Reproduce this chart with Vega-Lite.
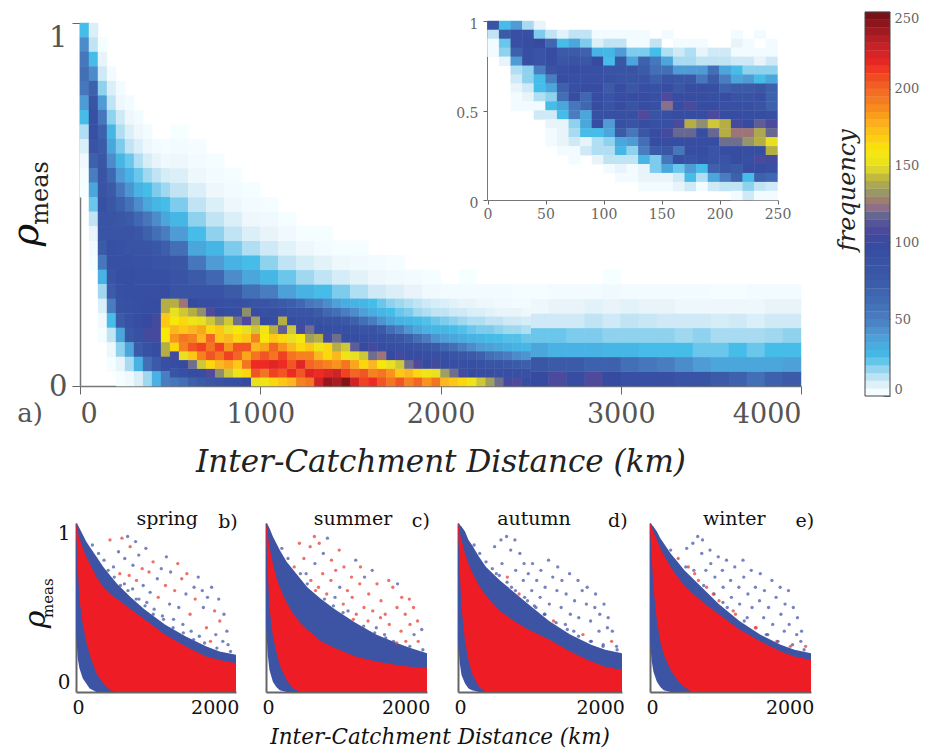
{"$schema":"https://vega.github.io/schema/vega-lite/v6.json","width":925,"height":751,"padding":0,"autosize":{"type":"none"},"background":"white","config":{"view":{"stroke":null},"font":"DejaVu Serif","axis":{"grid":false,"labelFont":"DejaVu Serif","titleFont":"DejaVu Serif"},"text":{"font":"DejaVu Serif"}},
"resolve":{"scale":{"x":"independent","y":"independent","color":"independent"},"axis":{"x":"independent","y":"independent"}},
"datasets":{
"fine":[{"d":25,"r":0.98,"f":25},{"d":25,"r":0.94,"f":45},{"d":25,"r":0.9,"f":55},{"d":25,"r":0.86,"f":60},{"d":25,"r":0.82,"f":55},{"d":25,"r":0.78,"f":40},{"d":25,"r":0.74,"f":25},{"d":25,"r":0.7,"f":14},{"d":25,"r":0.66,"f":8},{"d":25,"r":0.62,"f":4},{"d":25,"r":0.58,"f":2},{"d":25,"r":0.54,"f":1},
{"d":75,"r":0.98,"f":8},{"d":75,"r":0.94,"f":12},{"d":75,"r":0.9,"f":25},{"d":75,"r":0.86,"f":45},{"d":75,"r":0.82,"f":70},{"d":75,"r":0.78,"f":85},{"d":75,"r":0.74,"f":90},{"d":75,"r":0.7,"f":90},{"d":75,"r":0.66,"f":85},{"d":75,"r":0.62,"f":70},{"d":75,"r":0.58,"f":50},{"d":75,"r":0.54,"f":35},{"d":75,"r":0.5,"f":22},{"d":75,"r":0.46,"f":12},{"d":75,"r":0.42,"f":6},{"d":75,"r":0.38,"f":3},{"d":75,"r":0.34,"f":2},
{"d":125,"r":0.94,"f":2},{"d":125,"r":0.9,"f":6},{"d":125,"r":0.86,"f":10},{"d":125,"r":0.82,"f":18},{"d":125,"r":0.78,"f":40},{"d":125,"r":0.74,"f":55},{"d":125,"r":0.7,"f":70},{"d":125,"r":0.66,"f":75},{"d":125,"r":0.62,"f":80},{"d":125,"r":0.58,"f":85},{"d":125,"r":0.54,"f":85},{"d":125,"r":0.5,"f":90},{"d":125,"r":0.46,"f":85},{"d":125,"r":0.42,"f":85},{"d":125,"r":0.38,"f":75},{"d":125,"r":0.34,"f":55},{"d":125,"r":0.3,"f":30},{"d":125,"r":0.26,"f":16},{"d":125,"r":0.22,"f":8},{"d":125,"r":0.18,"f":4},{"d":125,"r":0.14,"f":2},
{"d":175,"r":0.86,"f":3},{"d":175,"r":0.82,"f":8},{"d":175,"r":0.78,"f":12},{"d":175,"r":0.74,"f":18},{"d":175,"r":0.7,"f":28},{"d":175,"r":0.66,"f":35},{"d":175,"r":0.62,"f":45},{"d":175,"r":0.58,"f":65},{"d":175,"r":0.54,"f":75},{"d":175,"r":0.5,"f":80},{"d":175,"r":0.46,"f":85},{"d":175,"r":0.42,"f":85},{"d":175,"r":0.38,"f":90},{"d":175,"r":0.34,"f":90},{"d":175,"r":0.3,"f":85},{"d":175,"r":0.26,"f":75},{"d":175,"r":0.22,"f":50},{"d":175,"r":0.18,"f":25},{"d":175,"r":0.14,"f":12},{"d":175,"r":0.1,"f":5},{"d":175,"r":0.06,"f":2},
{"d":225,"r":0.82,"f":3},{"d":225,"r":0.78,"f":5},{"d":225,"r":0.74,"f":10},{"d":225,"r":0.7,"f":14},{"d":225,"r":0.66,"f":20},{"d":225,"r":0.62,"f":28},{"d":225,"r":0.58,"f":40},{"d":225,"r":0.54,"f":55},{"d":225,"r":0.5,"f":70},{"d":225,"r":0.46,"f":80},{"d":225,"r":0.42,"f":85},{"d":225,"r":0.38,"f":88},{"d":225,"r":0.34,"f":90},{"d":225,"r":0.3,"f":92},{"d":225,"r":0.26,"f":90},{"d":225,"r":0.22,"f":88},{"d":225,"r":0.18,"f":75},{"d":225,"r":0.14,"f":35},{"d":225,"r":0.1,"f":18},{"d":225,"r":0.06,"f":6},{"d":225,"r":0.02,"f":2},
{"d":275,"r":0.78,"f":3},{"d":275,"r":0.74,"f":5},{"d":275,"r":0.7,"f":8},{"d":275,"r":0.66,"f":12},{"d":275,"r":0.62,"f":22},{"d":275,"r":0.58,"f":30},{"d":275,"r":0.54,"f":42},{"d":275,"r":0.5,"f":58},{"d":275,"r":0.46,"f":75},{"d":275,"r":0.42,"f":85},{"d":275,"r":0.38,"f":85},{"d":275,"r":0.34,"f":90},{"d":275,"r":0.3,"f":92},{"d":275,"r":0.26,"f":92},{"d":275,"r":0.22,"f":90},{"d":275,"r":0.18,"f":88},{"d":275,"r":0.14,"f":80},{"d":275,"r":0.1,"f":35},{"d":275,"r":0.06,"f":15},{"d":275,"r":0.02,"f":4},
{"d":325,"r":0.74,"f":3},{"d":325,"r":0.7,"f":5},{"d":325,"r":0.66,"f":8},{"d":325,"r":0.62,"f":14},{"d":325,"r":0.58,"f":22},{"d":325,"r":0.54,"f":30},{"d":325,"r":0.5,"f":45},{"d":325,"r":0.46,"f":65},{"d":325,"r":0.42,"f":80},{"d":325,"r":0.38,"f":85},{"d":325,"r":0.34,"f":88},{"d":325,"r":0.3,"f":90},{"d":325,"r":0.26,"f":92},{"d":325,"r":0.22,"f":92},{"d":325,"r":0.18,"f":95},{"d":325,"r":0.14,"f":88},{"d":325,"r":0.1,"f":75},{"d":325,"r":0.06,"f":30},{"d":325,"r":0.02,"f":8},
{"d":375,"r":0.7,"f":3},{"d":375,"r":0.66,"f":5},{"d":375,"r":0.62,"f":9},{"d":375,"r":0.58,"f":16},{"d":375,"r":0.54,"f":25},{"d":375,"r":0.5,"f":35},{"d":375,"r":0.46,"f":55},{"d":375,"r":0.42,"f":70},{"d":375,"r":0.38,"f":85},{"d":375,"r":0.34,"f":88},{"d":375,"r":0.3,"f":90},{"d":375,"r":0.26,"f":92},{"d":375,"r":0.22,"f":95},{"d":375,"r":0.18,"f":100},{"d":375,"r":0.14,"f":105},{"d":375,"r":0.1,"f":88},{"d":375,"r":0.06,"f":60},{"d":375,"r":0.02,"f":16},
{"d":425,"r":0.66,"f":3},{"d":425,"r":0.62,"f":6},{"d":425,"r":0.58,"f":12},{"d":425,"r":0.54,"f":20},{"d":425,"r":0.5,"f":28},{"d":425,"r":0.46,"f":45},{"d":425,"r":0.42,"f":60},{"d":425,"r":0.38,"f":80},{"d":425,"r":0.34,"f":85},{"d":425,"r":0.3,"f":90},{"d":425,"r":0.26,"f":92},{"d":425,"r":0.22,"f":95},{"d":425,"r":0.18,"f":105},{"d":425,"r":0.14,"f":105},{"d":425,"r":0.1,"f":95},{"d":425,"r":0.06,"f":75},{"d":425,"r":0.02,"f":30},
{"d":475,"r":0.66,"f":2},{"d":475,"r":0.62,"f":4},{"d":475,"r":0.58,"f":9},{"d":475,"r":0.54,"f":16},{"d":475,"r":0.5,"f":25},{"d":475,"r":0.46,"f":35},{"d":475,"r":0.42,"f":50},{"d":475,"r":0.38,"f":72},{"d":475,"r":0.34,"f":85},{"d":475,"r":0.3,"f":90},{"d":475,"r":0.26,"f":95},{"d":475,"r":0.22,"f":140},{"d":475,"r":0.18,"f":170},{"d":475,"r":0.14,"f":160},{"d":475,"r":0.1,"f":140},{"d":475,"r":0.06,"f":90},{"d":475,"r":0.02,"f":50}],
"hot":[{"d":525,"r":0.012,"f":55},{"d":525,"r":0.036,"f":85},{"d":525,"r":0.06,"f":95},{"d":525,"r":0.084,"f":105},{"d":525,"r":0.108,"f":165},{"d":525,"r":0.132,"f":185},{"d":525,"r":0.156,"f":175},{"d":525,"r":0.18,"f":160},{"d":525,"r":0.204,"f":150},{"d":525,"r":0.228,"f":140},
{"d":575,"r":0.012,"f":60},{"d":575,"r":0.036,"f":90},{"d":575,"r":0.06,"f":100},{"d":575,"r":0.084,"f":150},{"d":575,"r":0.108,"f":190},{"d":575,"r":0.132,"f":195},{"d":575,"r":0.156,"f":170},{"d":575,"r":0.18,"f":165},{"d":575,"r":0.204,"f":145},{"d":575,"r":0.228,"f":125},
{"d":625,"r":0.012,"f":70},{"d":625,"r":0.036,"f":95},{"d":625,"r":0.06,"f":120},{"d":625,"r":0.084,"f":170},{"d":625,"r":0.108,"f":205},{"d":625,"r":0.132,"f":190},{"d":625,"r":0.156,"f":175},{"d":625,"r":0.18,"f":155},{"d":625,"r":0.204,"f":140},{"d":625,"r":0.228,"f":100},
{"d":675,"r":0.012,"f":75},{"d":675,"r":0.036,"f":95},{"d":675,"r":0.06,"f":145},{"d":675,"r":0.084,"f":190},{"d":675,"r":0.108,"f":210},{"d":675,"r":0.132,"f":175},{"d":675,"r":0.156,"f":180},{"d":675,"r":0.18,"f":150},{"d":675,"r":0.204,"f":130},{"d":675,"r":0.228,"f":95},
{"d":725,"r":0.012,"f":80},{"d":725,"r":0.036,"f":110},{"d":725,"r":0.06,"f":165},{"d":725,"r":0.084,"f":205},{"d":725,"r":0.108,"f":195},{"d":725,"r":0.132,"f":200},{"d":725,"r":0.156,"f":165},{"d":725,"r":0.18,"f":145},{"d":725,"r":0.204,"f":110},{"d":725,"r":0.228,"f":95},
{"d":775,"r":0.012,"f":85},{"d":775,"r":0.036,"f":130},{"d":775,"r":0.06,"f":175},{"d":775,"r":0.084,"f":195},{"d":775,"r":0.108,"f":210},{"d":775,"r":0.132,"f":170},{"d":775,"r":0.156,"f":170},{"d":775,"r":0.18,"f":135},{"d":775,"r":0.204,"f":100},{"d":775,"r":0.228,"f":90},
{"d":825,"r":0.012,"f":90},{"d":825,"r":0.036,"f":145},{"d":825,"r":0.06,"f":180},{"d":825,"r":0.084,"f":210},{"d":825,"r":0.108,"f":185},{"d":825,"r":0.132,"f":175},{"d":825,"r":0.156,"f":150},{"d":825,"r":0.18,"f":145},{"d":825,"r":0.204,"f":95},{"d":825,"r":0.228,"f":88},
{"d":875,"r":0.012,"f":92},{"d":875,"r":0.036,"f":155},{"d":875,"r":0.06,"f":170},{"d":875,"r":0.084,"f":200},{"d":875,"r":0.108,"f":205},{"d":875,"r":0.132,"f":165},{"d":875,"r":0.156,"f":160},{"d":875,"r":0.18,"f":120},{"d":875,"r":0.204,"f":95},{"d":875,"r":0.228,"f":90},
{"d":925,"r":0.012,"f":100},{"d":925,"r":0.036,"f":165},{"d":925,"r":0.06,"f":195},{"d":925,"r":0.084,"f":180},{"d":925,"r":0.108,"f":205},{"d":925,"r":0.132,"f":170},{"d":925,"r":0.156,"f":150},{"d":925,"r":0.18,"f":110},{"d":925,"r":0.204,"f":130},{"d":925,"r":0.228,"f":88},
{"d":975,"r":0.012,"f":150},{"d":975,"r":0.036,"f":205},{"d":975,"r":0.06,"f":215},{"d":975,"r":0.084,"f":195},{"d":975,"r":0.108,"f":175},{"d":975,"r":0.132,"f":190},{"d":975,"r":0.156,"f":145},{"d":975,"r":0.18,"f":135},{"d":975,"r":0.204,"f":95},{"d":975,"r":0.228,"f":85},
{"d":1025,"r":0.012,"f":155},{"d":1025,"r":0.036,"f":195},{"d":1025,"r":0.06,"f":215},{"d":1025,"r":0.084,"f":205},{"d":1025,"r":0.108,"f":180},{"d":1025,"r":0.132,"f":160},{"d":1025,"r":0.156,"f":155},{"d":1025,"r":0.18,"f":100},{"d":1025,"r":0.204,"f":90},{"d":1025,"r":0.228,"f":85},
{"d":1075,"r":0.012,"f":165},{"d":1075,"r":0.036,"f":210},{"d":1075,"r":0.06,"f":220},{"d":1075,"r":0.084,"f":195},{"d":1075,"r":0.108,"f":200},{"d":1075,"r":0.132,"f":170},{"d":1075,"r":0.156,"f":140},{"d":1075,"r":0.18,"f":95},{"d":1075,"r":0.204,"f":92},{"d":1075,"r":0.228,"f":80},
{"d":1125,"r":0.012,"f":170},{"d":1125,"r":0.036,"f":205},{"d":1125,"r":0.06,"f":215},{"d":1125,"r":0.084,"f":210},{"d":1125,"r":0.108,"f":185},{"d":1125,"r":0.132,"f":165},{"d":1125,"r":0.156,"f":115},{"d":1125,"r":0.18,"f":140},{"d":1125,"r":0.204,"f":90},{"d":1125,"r":0.228,"f":75},
{"d":1175,"r":0.012,"f":175},{"d":1175,"r":0.036,"f":215},{"d":1175,"r":0.06,"f":205},{"d":1175,"r":0.084,"f":195},{"d":1175,"r":0.108,"f":175},{"d":1175,"r":0.132,"f":150},{"d":1175,"r":0.156,"f":145},{"d":1175,"r":0.18,"f":95},{"d":1175,"r":0.204,"f":85},{"d":1175,"r":0.228,"f":72},
{"d":1225,"r":0.012,"f":190},{"d":1225,"r":0.036,"f":205},{"d":1225,"r":0.06,"f":220},{"d":1225,"r":0.084,"f":190},{"d":1225,"r":0.108,"f":165},{"d":1225,"r":0.132,"f":160},{"d":1225,"r":0.156,"f":105},{"d":1225,"r":0.18,"f":90},{"d":1225,"r":0.204,"f":85},{"d":1225,"r":0.228,"f":65},
{"d":1275,"r":0.012,"f":195},{"d":1275,"r":0.036,"f":220},{"d":1275,"r":0.06,"f":200},{"d":1275,"r":0.084,"f":190},{"d":1275,"r":0.108,"f":170},{"d":1275,"r":0.132,"f":135},{"d":1275,"r":0.156,"f":120},{"d":1275,"r":0.18,"f":90},{"d":1275,"r":0.204,"f":82},{"d":1275,"r":0.228,"f":55},
{"d":1325,"r":0.012,"f":225},{"d":1325,"r":0.036,"f":215},{"d":1325,"r":0.06,"f":195},{"d":1325,"r":0.084,"f":175},{"d":1325,"r":0.108,"f":155},{"d":1325,"r":0.132,"f":140},{"d":1325,"r":0.156,"f":95},{"d":1325,"r":0.18,"f":88},{"d":1325,"r":0.204,"f":75},{"d":1325,"r":0.228,"f":50},
{"d":1375,"r":0.012,"f":240},{"d":1375,"r":0.036,"f":220},{"d":1375,"r":0.06,"f":190},{"d":1375,"r":0.084,"f":165},{"d":1375,"r":0.108,"f":165},{"d":1375,"r":0.132,"f":105},{"d":1375,"r":0.156,"f":92},{"d":1375,"r":0.18,"f":85},{"d":1375,"r":0.204,"f":65},{"d":1375,"r":0.228,"f":45},
{"d":1425,"r":0.012,"f":235},{"d":1425,"r":0.036,"f":225},{"d":1425,"r":0.06,"f":185},{"d":1425,"r":0.084,"f":175},{"d":1425,"r":0.108,"f":140},{"d":1425,"r":0.132,"f":120},{"d":1425,"r":0.156,"f":90},{"d":1425,"r":0.18,"f":85},{"d":1425,"r":0.204,"f":60},{"d":1425,"r":0.228,"f":38},
{"d":1475,"r":0.012,"f":245},{"d":1475,"r":0.036,"f":210},{"d":1475,"r":0.06,"f":195},{"d":1475,"r":0.084,"f":155},{"d":1475,"r":0.108,"f":145},{"d":1475,"r":0.132,"f":95},{"d":1475,"r":0.156,"f":90},{"d":1475,"r":0.18,"f":78},{"d":1475,"r":0.204,"f":50},{"d":1475,"r":0.228,"f":32},
{"d":1525,"r":0.012,"f":225},{"d":1525,"r":0.036,"f":200},{"d":1525,"r":0.06,"f":180},{"d":1525,"r":0.084,"f":150},{"d":1525,"r":0.108,"f":115},{"d":1525,"r":0.132,"f":95},{"d":1525,"r":0.156,"f":88},{"d":1525,"r":0.18,"f":70},{"d":1525,"r":0.204,"f":45},{"d":1525,"r":0.228,"f":30},
{"d":1575,"r":0.012,"f":210},{"d":1575,"r":0.036,"f":205},{"d":1575,"r":0.06,"f":165},{"d":1575,"r":0.084,"f":145},{"d":1575,"r":0.108,"f":100},{"d":1575,"r":0.132,"f":92},{"d":1575,"r":0.156,"f":85},{"d":1575,"r":0.18,"f":60},{"d":1575,"r":0.204,"f":38},{"d":1575,"r":0.228,"f":28},
{"d":1625,"r":0.012,"f":215},{"d":1625,"r":0.036,"f":190},{"d":1625,"r":0.06,"f":175},{"d":1625,"r":0.084,"f":120},{"d":1625,"r":0.108,"f":105},{"d":1625,"r":0.132,"f":90},{"d":1625,"r":0.156,"f":85},{"d":1625,"r":0.18,"f":50},{"d":1625,"r":0.204,"f":32},{"d":1625,"r":0.228,"f":25},
{"d":1675,"r":0.012,"f":205},{"d":1675,"r":0.036,"f":195},{"d":1675,"r":0.06,"f":160},{"d":1675,"r":0.084,"f":125},{"d":1675,"r":0.108,"f":95},{"d":1675,"r":0.132,"f":90},{"d":1675,"r":0.156,"f":75},{"d":1675,"r":0.18,"f":42},{"d":1675,"r":0.204,"f":28},{"d":1675,"r":0.228,"f":22},
{"d":1725,"r":0.012,"f":195},{"d":1725,"r":0.036,"f":185},{"d":1725,"r":0.06,"f":150},{"d":1725,"r":0.084,"f":100},{"d":1725,"r":0.108,"f":92},{"d":1725,"r":0.132,"f":85},{"d":1725,"r":0.156,"f":60},{"d":1725,"r":0.18,"f":35},{"d":1725,"r":0.204,"f":25},{"d":1725,"r":0.228,"f":18},
{"d":1775,"r":0.012,"f":205},{"d":1775,"r":0.036,"f":170},{"d":1775,"r":0.06,"f":145},{"d":1775,"r":0.084,"f":105},{"d":1775,"r":0.108,"f":90},{"d":1775,"r":0.132,"f":80},{"d":1775,"r":0.156,"f":50},{"d":1775,"r":0.18,"f":30},{"d":1775,"r":0.204,"f":22},{"d":1775,"r":0.228,"f":16},
{"d":1825,"r":0.012,"f":190},{"d":1825,"r":0.036,"f":175},{"d":1825,"r":0.06,"f":120},{"d":1825,"r":0.084,"f":95},{"d":1825,"r":0.108,"f":90},{"d":1825,"r":0.132,"f":72},{"d":1825,"r":0.156,"f":42},{"d":1825,"r":0.18,"f":28},{"d":1825,"r":0.204,"f":20},{"d":1825,"r":0.228,"f":14},
{"d":1875,"r":0.012,"f":200},{"d":1875,"r":0.036,"f":165},{"d":1875,"r":0.06,"f":110},{"d":1875,"r":0.084,"f":95},{"d":1875,"r":0.108,"f":85},{"d":1875,"r":0.132,"f":60},{"d":1875,"r":0.156,"f":35},{"d":1875,"r":0.18,"f":25},{"d":1875,"r":0.204,"f":16},{"d":1875,"r":0.228,"f":12},
{"d":1925,"r":0.012,"f":185},{"d":1925,"r":0.036,"f":155},{"d":1925,"r":0.06,"f":100},{"d":1925,"r":0.084,"f":92},{"d":1925,"r":0.108,"f":80},{"d":1925,"r":0.132,"f":50},{"d":1925,"r":0.156,"f":30},{"d":1925,"r":0.18,"f":24},{"d":1925,"r":0.204,"f":14},{"d":1925,"r":0.228,"f":10},
{"d":1975,"r":0.012,"f":195},{"d":1975,"r":0.036,"f":150},{"d":1975,"r":0.06,"f":105},{"d":1975,"r":0.084,"f":90},{"d":1975,"r":0.108,"f":75},{"d":1975,"r":0.132,"f":42},{"d":1975,"r":0.156,"f":28},{"d":1975,"r":0.18,"f":22},{"d":1975,"r":0.204,"f":12},{"d":1975,"r":0.228,"f":9},
{"d":2025,"r":0.012,"f":175},{"d":2025,"r":0.036,"f":135},{"d":2025,"r":0.06,"f":95},{"d":2025,"r":0.084,"f":90},{"d":2025,"r":0.108,"f":65},{"d":2025,"r":0.132,"f":38},{"d":2025,"r":0.156,"f":28},{"d":2025,"r":0.18,"f":20},{"d":2025,"r":0.204,"f":12},{"d":2025,"r":0.228,"f":8},
{"d":2075,"r":0.012,"f":170},{"d":2075,"r":0.036,"f":120},{"d":2075,"r":0.06,"f":92},{"d":2075,"r":0.084,"f":85},{"d":2075,"r":0.108,"f":60},{"d":2075,"r":0.132,"f":35},{"d":2075,"r":0.156,"f":25},{"d":2075,"r":0.18,"f":18},{"d":2075,"r":0.204,"f":10},{"d":2075,"r":0.228,"f":7},
{"d":2125,"r":0.012,"f":165},{"d":2125,"r":0.036,"f":105},{"d":2125,"r":0.06,"f":90},{"d":2125,"r":0.084,"f":80},{"d":2125,"r":0.108,"f":50},{"d":2125,"r":0.132,"f":32},{"d":2125,"r":0.156,"f":24},{"d":2125,"r":0.18,"f":16},{"d":2125,"r":0.204,"f":10},{"d":2125,"r":0.228,"f":6},
{"d":2175,"r":0.012,"f":155},{"d":2175,"r":0.036,"f":100},{"d":2175,"r":0.06,"f":92},{"d":2175,"r":0.084,"f":75},{"d":2175,"r":0.108,"f":45},{"d":2175,"r":0.132,"f":30},{"d":2175,"r":0.156,"f":22},{"d":2175,"r":0.18,"f":14},{"d":2175,"r":0.204,"f":8},{"d":2175,"r":0.228,"f":6},
{"d":2225,"r":0.012,"f":145},{"d":2225,"r":0.036,"f":95},{"d":2225,"r":0.06,"f":88},{"d":2225,"r":0.084,"f":70},{"d":2225,"r":0.108,"f":40},{"d":2225,"r":0.132,"f":28},{"d":2225,"r":0.156,"f":20},{"d":2225,"r":0.18,"f":14},{"d":2225,"r":0.204,"f":8},{"d":2225,"r":0.228,"f":5},
{"d":2275,"r":0.012,"f":135},{"d":2275,"r":0.036,"f":95},{"d":2275,"r":0.06,"f":85},{"d":2275,"r":0.084,"f":60},{"d":2275,"r":0.108,"f":38},{"d":2275,"r":0.132,"f":26},{"d":2275,"r":0.156,"f":20},{"d":2275,"r":0.18,"f":12},{"d":2275,"r":0.204,"f":7},{"d":2275,"r":0.228,"f":5},
{"d":2325,"r":0.012,"f":120},{"d":2325,"r":0.036,"f":90},{"d":2325,"r":0.06,"f":85},{"d":2325,"r":0.084,"f":55},{"d":2325,"r":0.108,"f":35},{"d":2325,"r":0.132,"f":25},{"d":2325,"r":0.156,"f":18},{"d":2325,"r":0.18,"f":12},{"d":2325,"r":0.204,"f":6},{"d":2325,"r":0.228,"f":4},
{"d":2375,"r":0.012,"f":105},{"d":2375,"r":0.036,"f":90},{"d":2375,"r":0.06,"f":80},{"d":2375,"r":0.084,"f":50},{"d":2375,"r":0.108,"f":32},{"d":2375,"r":0.132,"f":24},{"d":2375,"r":0.156,"f":16},{"d":2375,"r":0.18,"f":10},{"d":2375,"r":0.204,"f":6},{"d":2375,"r":0.228,"f":4},
{"d":2425,"r":0.012,"f":110},{"d":2425,"r":0.036,"f":90},{"d":2425,"r":0.06,"f":75},{"d":2425,"r":0.084,"f":45},{"d":2425,"r":0.108,"f":30},{"d":2425,"r":0.132,"f":24},{"d":2425,"r":0.156,"f":16},{"d":2425,"r":0.18,"f":10},{"d":2425,"r":0.204,"f":6},{"d":2425,"r":0.228,"f":3},
{"d":2475,"r":0.012,"f":95},{"d":2475,"r":0.036,"f":88},{"d":2475,"r":0.06,"f":72},{"d":2475,"r":0.084,"f":42},{"d":2475,"r":0.108,"f":28},{"d":2475,"r":0.132,"f":22},{"d":2475,"r":0.156,"f":14},{"d":2475,"r":0.18,"f":9},{"d":2475,"r":0.204,"f":5},{"d":2475,"r":0.228,"f":3}],
"coarse":[{"d":550,"r":0.26,"f":85},{"d":550,"r":0.3,"f":85},{"d":550,"r":0.34,"f":80},{"d":550,"r":0.38,"f":60},{"d":550,"r":0.42,"f":40},{"d":550,"r":0.46,"f":28},{"d":550,"r":0.5,"f":20},{"d":550,"r":0.54,"f":12},{"d":550,"r":0.58,"f":8},{"d":550,"r":0.62,"f":5},{"d":550,"r":0.66,"f":3},{"d":550,"r":0.7,"f":1},
{"d":650,"r":0.26,"f":85},{"d":650,"r":0.3,"f":75},{"d":650,"r":0.34,"f":55},{"d":650,"r":0.38,"f":35},{"d":650,"r":0.42,"f":25},{"d":650,"r":0.46,"f":18},{"d":650,"r":0.5,"f":12},{"d":650,"r":0.54,"f":8},{"d":650,"r":0.58,"f":5},{"d":650,"r":0.62,"f":3},{"d":650,"r":0.66,"f":2},
{"d":750,"r":0.26,"f":85},{"d":750,"r":0.3,"f":65},{"d":750,"r":0.34,"f":40},{"d":750,"r":0.38,"f":28},{"d":750,"r":0.42,"f":18},{"d":750,"r":0.46,"f":12},{"d":750,"r":0.5,"f":8},{"d":750,"r":0.54,"f":5},{"d":750,"r":0.58,"f":3},{"d":750,"r":0.62,"f":2},
{"d":850,"r":0.26,"f":75},{"d":850,"r":0.3,"f":45},{"d":850,"r":0.34,"f":30},{"d":850,"r":0.38,"f":20},{"d":850,"r":0.42,"f":12},{"d":850,"r":0.46,"f":8},{"d":850,"r":0.5,"f":5},{"d":850,"r":0.54,"f":3},{"d":850,"r":0.58,"f":2},
{"d":950,"r":0.26,"f":60},{"d":950,"r":0.3,"f":35},{"d":950,"r":0.34,"f":25},{"d":950,"r":0.38,"f":14},{"d":950,"r":0.42,"f":8},{"d":950,"r":0.46,"f":5},{"d":950,"r":0.5,"f":3},{"d":950,"r":0.54,"f":2},
{"d":1050,"r":0.26,"f":50},{"d":1050,"r":0.3,"f":28},{"d":1050,"r":0.34,"f":18},{"d":1050,"r":0.38,"f":10},{"d":1050,"r":0.42,"f":6},{"d":1050,"r":0.46,"f":4},{"d":1050,"r":0.5,"f":2},
{"d":1150,"r":0.26,"f":38},{"d":1150,"r":0.3,"f":22},{"d":1150,"r":0.34,"f":12},{"d":1150,"r":0.38,"f":7},{"d":1150,"r":0.42,"f":4},{"d":1150,"r":0.46,"f":2},
{"d":1250,"r":0.26,"f":30},{"d":1250,"r":0.3,"f":16},{"d":1250,"r":0.34,"f":9},{"d":1250,"r":0.38,"f":5},{"d":1250,"r":0.42,"f":2},
{"d":1350,"r":0.26,"f":25},{"d":1350,"r":0.3,"f":12},{"d":1350,"r":0.34,"f":7},{"d":1350,"r":0.38,"f":3},{"d":1350,"r":0.42,"f":2},
{"d":1450,"r":0.26,"f":20},{"d":1450,"r":0.3,"f":9},{"d":1450,"r":0.34,"f":5},{"d":1450,"r":0.38,"f":2},
{"d":1550,"r":0.26,"f":14},{"d":1550,"r":0.3,"f":7},{"d":1550,"r":0.34,"f":4},{"d":1550,"r":0.38,"f":2},
{"d":1650,"r":0.26,"f":10},{"d":1650,"r":0.3,"f":5},{"d":1650,"r":0.34,"f":3},
{"d":1750,"r":0.26,"f":8},{"d":1750,"r":0.3,"f":4},{"d":1750,"r":0.34,"f":2},
{"d":1850,"r":0.26,"f":6},{"d":1850,"r":0.3,"f":3},
{"d":1950,"r":0.26,"f":4},{"d":1950,"r":0.3,"f":2},
{"d":2050,"r":0.26,"f":3},{"d":2150,"r":0.26,"f":3},{"d":2150,"r":0.3,"f":1},{"d":2250,"r":0.26,"f":3},{"d":2350,"r":0.26,"f":3},{"d":2450,"r":0.26,"f":2},
{"d":2550,"r":0.02,"f":100},{"d":2550,"r":0.06,"f":80},{"d":2550,"r":0.1,"f":35},{"d":2550,"r":0.14,"f":22},{"d":2550,"r":0.18,"f":10},{"d":2550,"r":0.22,"f":5},{"d":2550,"r":0.26,"f":2},
{"d":2650,"r":0.02,"f":108},{"d":2650,"r":0.06,"f":75},{"d":2650,"r":0.1,"f":30},{"d":2650,"r":0.14,"f":22},{"d":2650,"r":0.18,"f":10},{"d":2650,"r":0.22,"f":6},{"d":2650,"r":0.26,"f":3},
{"d":2750,"r":0.02,"f":95},{"d":2750,"r":0.06,"f":75},{"d":2750,"r":0.1,"f":30},{"d":2750,"r":0.14,"f":20},{"d":2750,"r":0.18,"f":10},{"d":2750,"r":0.22,"f":6},{"d":2750,"r":0.26,"f":3},
{"d":2850,"r":0.02,"f":110},{"d":2850,"r":0.06,"f":70},{"d":2850,"r":0.1,"f":30},{"d":2850,"r":0.14,"f":20},{"d":2850,"r":0.18,"f":12},{"d":2850,"r":0.22,"f":7},{"d":2850,"r":0.26,"f":3},
{"d":2950,"r":0.02,"f":100},{"d":2950,"r":0.06,"f":70},{"d":2950,"r":0.1,"f":28},{"d":2950,"r":0.14,"f":18},{"d":2950,"r":0.18,"f":10},{"d":2950,"r":0.22,"f":6},{"d":2950,"r":0.26,"f":4},{"d":2950,"r":0.3,"f":1},
{"d":3050,"r":0.02,"f":90},{"d":3050,"r":0.06,"f":60},{"d":3050,"r":0.1,"f":28},{"d":3050,"r":0.14,"f":18},{"d":3050,"r":0.18,"f":12},{"d":3050,"r":0.22,"f":7},{"d":3050,"r":0.26,"f":3},
{"d":3150,"r":0.02,"f":90},{"d":3150,"r":0.06,"f":55},{"d":3150,"r":0.1,"f":25},{"d":3150,"r":0.14,"f":18},{"d":3150,"r":0.18,"f":11},{"d":3150,"r":0.22,"f":6},{"d":3150,"r":0.26,"f":3},
{"d":3250,"r":0.02,"f":90},{"d":3250,"r":0.06,"f":50},{"d":3250,"r":0.1,"f":25},{"d":3250,"r":0.14,"f":18},{"d":3250,"r":0.18,"f":10},{"d":3250,"r":0.22,"f":6},{"d":3250,"r":0.26,"f":3},
{"d":3350,"r":0.02,"f":85},{"d":3350,"r":0.06,"f":45},{"d":3350,"r":0.1,"f":25},{"d":3350,"r":0.14,"f":16},{"d":3350,"r":0.18,"f":10},{"d":3350,"r":0.22,"f":5},{"d":3350,"r":0.26,"f":3},
{"d":3450,"r":0.02,"f":85},{"d":3450,"r":0.06,"f":40},{"d":3450,"r":0.1,"f":22},{"d":3450,"r":0.14,"f":18},{"d":3450,"r":0.18,"f":10},{"d":3450,"r":0.22,"f":5},{"d":3450,"r":0.26,"f":3},
{"d":3550,"r":0.02,"f":75},{"d":3550,"r":0.06,"f":35},{"d":3550,"r":0.1,"f":22},{"d":3550,"r":0.14,"f":15},{"d":3550,"r":0.18,"f":9},{"d":3550,"r":0.22,"f":5},{"d":3550,"r":0.26,"f":2},
{"d":3650,"r":0.02,"f":70},{"d":3650,"r":0.06,"f":35},{"d":3650,"r":0.1,"f":25},{"d":3650,"r":0.14,"f":15},{"d":3650,"r":0.18,"f":10},{"d":3650,"r":0.22,"f":5},{"d":3650,"r":0.26,"f":2},
{"d":3750,"r":0.02,"f":60},{"d":3750,"r":0.06,"f":35},{"d":3750,"r":0.1,"f":22},{"d":3750,"r":0.14,"f":15},{"d":3750,"r":0.18,"f":8},{"d":3750,"r":0.22,"f":5},{"d":3750,"r":0.26,"f":3},
{"d":3850,"r":0.02,"f":70},{"d":3850,"r":0.06,"f":35},{"d":3850,"r":0.1,"f":25},{"d":3850,"r":0.14,"f":16},{"d":3850,"r":0.18,"f":10},{"d":3850,"r":0.22,"f":6},{"d":3850,"r":0.26,"f":3},
{"d":3950,"r":0.02,"f":75},{"d":3950,"r":0.06,"f":38},{"d":3950,"r":0.1,"f":25},{"d":3950,"r":0.14,"f":18},{"d":3950,"r":0.18,"f":10},{"d":3950,"r":0.22,"f":6},{"d":3950,"r":0.26,"f":3}],
"inset":[{"d":5,"r":0.975,"f":85},{"d":15,"r":0.975,"f":25},{"d":25,"r":0.975,"f":40},{"d":35,"r":0.975,"f":15},{"d":45,"r":0.975,"f":6},
{"d":5,"r":0.925,"f":12},{"d":15,"r":0.925,"f":75},{"d":25,"r":0.925,"f":90},{"d":35,"r":0.925,"f":90},{"d":45,"r":0.925,"f":20},{"d":55,"r":0.925,"f":12},{"d":65,"r":0.925,"f":7},{"d":75,"r":0.925,"f":12},{"d":85,"r":0.925,"f":12},{"d":95,"r":0.925,"f":3},{"d":105,"r":0.925,"f":3},{"d":115,"r":0.925,"f":3},{"d":125,"r":0.925,"f":3},{"d":135,"r":0.925,"f":3},{"d":155,"r":0.925,"f":3},{"d":215,"r":0.925,"f":3},{"d":235,"r":0.925,"f":3},
{"d":5,"r":0.875,"f":3},{"d":15,"r":0.875,"f":22},{"d":25,"r":0.875,"f":90},{"d":35,"r":0.875,"f":95},{"d":45,"r":0.875,"f":100},{"d":55,"r":0.875,"f":65},{"d":65,"r":0.875,"f":25},{"d":75,"r":0.875,"f":35},{"d":85,"r":0.875,"f":20},{"d":95,"r":0.875,"f":8},{"d":105,"r":0.875,"f":12},{"d":115,"r":0.875,"f":12},{"d":125,"r":0.875,"f":3},{"d":135,"r":0.875,"f":3},{"d":145,"r":0.875,"f":12},{"d":165,"r":0.875,"f":3},{"d":175,"r":0.875,"f":3},{"d":185,"r":0.875,"f":3},{"d":215,"r":0.875,"f":6},{"d":225,"r":0.875,"f":3},{"d":245,"r":0.875,"f":3},
{"d":5,"r":0.825,"f":3},{"d":15,"r":0.825,"f":18},{"d":25,"r":0.825,"f":70},{"d":35,"r":0.825,"f":90},{"d":45,"r":0.825,"f":85},{"d":55,"r":0.825,"f":95},{"d":65,"r":0.825,"f":75},{"d":75,"r":0.825,"f":75},{"d":85,"r":0.825,"f":70},{"d":95,"r":0.825,"f":30},{"d":105,"r":0.825,"f":28},{"d":115,"r":0.825,"f":40},{"d":125,"r":0.825,"f":20},{"d":135,"r":0.825,"f":20},{"d":145,"r":0.825,"f":25},{"d":155,"r":0.825,"f":14},{"d":165,"r":0.825,"f":10},{"d":175,"r":0.825,"f":14},{"d":185,"r":0.825,"f":6},{"d":195,"r":0.825,"f":10},{"d":205,"r":0.825,"f":10},{"d":215,"r":0.825,"f":3},{"d":225,"r":0.825,"f":3},{"d":235,"r":0.825,"f":3},{"d":245,"r":0.825,"f":3},
{"d":15,"r":0.775,"f":6},{"d":25,"r":0.775,"f":40},{"d":35,"r":0.775,"f":90},{"d":45,"r":0.775,"f":85},{"d":55,"r":0.775,"f":95},{"d":65,"r":0.775,"f":80},{"d":75,"r":0.775,"f":85},{"d":85,"r":0.775,"f":80},{"d":95,"r":0.775,"f":100},{"d":105,"r":0.775,"f":25},{"d":115,"r":0.775,"f":80},{"d":125,"r":0.775,"f":35},{"d":135,"r":0.775,"f":70},{"d":145,"r":0.775,"f":55},{"d":155,"r":0.775,"f":35},{"d":165,"r":0.775,"f":15},{"d":175,"r":0.775,"f":15},{"d":185,"r":0.775,"f":12},{"d":195,"r":0.775,"f":12},{"d":205,"r":0.775,"f":12},{"d":215,"r":0.775,"f":10},{"d":225,"r":0.775,"f":10},{"d":235,"r":0.775,"f":6},{"d":245,"r":0.775,"f":10},
{"d":25,"r":0.725,"f":14},{"d":35,"r":0.725,"f":18},{"d":45,"r":0.725,"f":50},{"d":55,"r":0.725,"f":85},{"d":65,"r":0.725,"f":90},{"d":75,"r":0.725,"f":95},{"d":85,"r":0.725,"f":90},{"d":95,"r":0.725,"f":90},{"d":105,"r":0.725,"f":85},{"d":115,"r":0.725,"f":85},{"d":125,"r":0.725,"f":85},{"d":135,"r":0.725,"f":75},{"d":145,"r":0.725,"f":60},{"d":155,"r":0.725,"f":60},{"d":165,"r":0.725,"f":40},{"d":175,"r":0.725,"f":40},{"d":185,"r":0.725,"f":40},{"d":195,"r":0.725,"f":60},{"d":205,"r":0.725,"f":35},{"d":215,"r":0.725,"f":25},{"d":225,"r":0.725,"f":18},{"d":235,"r":0.725,"f":18},{"d":245,"r":0.725,"f":18},
{"d":25,"r":0.675,"f":10},{"d":35,"r":0.675,"f":18},{"d":45,"r":0.675,"f":25},{"d":55,"r":0.675,"f":50},{"d":65,"r":0.675,"f":95},{"d":75,"r":0.675,"f":90},{"d":85,"r":0.675,"f":90},{"d":95,"r":0.675,"f":90},{"d":105,"r":0.675,"f":88},{"d":115,"r":0.675,"f":85},{"d":125,"r":0.675,"f":85},{"d":135,"r":0.675,"f":85},{"d":145,"r":0.675,"f":72},{"d":155,"r":0.675,"f":85},{"d":165,"r":0.675,"f":80},{"d":175,"r":0.675,"f":80},{"d":185,"r":0.675,"f":55},{"d":195,"r":0.675,"f":75},{"d":205,"r":0.675,"f":50},{"d":215,"r":0.675,"f":35},{"d":225,"r":0.675,"f":40},{"d":235,"r":0.675,"f":25},{"d":245,"r":0.675,"f":35},
{"d":25,"r":0.625,"f":6},{"d":35,"r":0.625,"f":10},{"d":45,"r":0.625,"f":25},{"d":55,"r":0.625,"f":35},{"d":65,"r":0.625,"f":70},{"d":75,"r":0.625,"f":90},{"d":85,"r":0.625,"f":95},{"d":95,"r":0.625,"f":95},{"d":105,"r":0.625,"f":75},{"d":115,"r":0.625,"f":95},{"d":125,"r":0.625,"f":80},{"d":135,"r":0.625,"f":90},{"d":145,"r":0.625,"f":88},{"d":155,"r":0.625,"f":95},{"d":165,"r":0.625,"f":80},{"d":175,"r":0.625,"f":95},{"d":185,"r":0.625,"f":95},{"d":195,"r":0.625,"f":90},{"d":205,"r":0.625,"f":70},{"d":215,"r":0.625,"f":75},{"d":225,"r":0.625,"f":75},{"d":235,"r":0.625,"f":80},{"d":245,"r":0.625,"f":70},
{"d":25,"r":0.575,"f":3},{"d":35,"r":0.575,"f":6},{"d":45,"r":0.575,"f":14},{"d":55,"r":0.575,"f":18},{"d":65,"r":0.575,"f":60},{"d":75,"r":0.575,"f":95},{"d":85,"r":0.575,"f":65},{"d":95,"r":0.575,"f":95},{"d":105,"r":0.575,"f":85},{"d":115,"r":0.575,"f":95},{"d":125,"r":0.575,"f":95},{"d":135,"r":0.575,"f":95},{"d":145,"r":0.575,"f":90},{"d":155,"r":0.575,"f":110},{"d":165,"r":0.575,"f":95},{"d":175,"r":0.575,"f":95},{"d":185,"r":0.575,"f":95},{"d":195,"r":0.575,"f":90},{"d":205,"r":0.575,"f":95},{"d":215,"r":0.575,"f":85},{"d":225,"r":0.575,"f":85},{"d":235,"r":0.575,"f":90},{"d":245,"r":0.575,"f":70},
{"d":25,"r":0.525,"f":3},{"d":35,"r":0.525,"f":3},{"d":45,"r":0.525,"f":3},{"d":55,"r":0.525,"f":25},{"d":65,"r":0.525,"f":35},{"d":75,"r":0.525,"f":55},{"d":85,"r":0.525,"f":65},{"d":95,"r":0.525,"f":95},{"d":105,"r":0.525,"f":85},{"d":115,"r":0.525,"f":95},{"d":125,"r":0.525,"f":85},{"d":135,"r":0.525,"f":95},{"d":145,"r":0.525,"f":90},{"d":155,"r":0.525,"f":122},{"d":165,"r":0.525,"f":95},{"d":175,"r":0.525,"f":108},{"d":185,"r":0.525,"f":95},{"d":195,"r":0.525,"f":95},{"d":205,"r":0.525,"f":90},{"d":215,"r":0.525,"f":90},{"d":225,"r":0.525,"f":90},{"d":235,"r":0.525,"f":85},{"d":245,"r":0.525,"f":70},
{"d":45,"r":0.475,"f":10},{"d":55,"r":0.475,"f":10},{"d":65,"r":0.475,"f":25},{"d":75,"r":0.475,"f":50},{"d":85,"r":0.475,"f":35},{"d":95,"r":0.475,"f":90},{"d":105,"r":0.475,"f":90},{"d":115,"r":0.475,"f":90},{"d":125,"r":0.475,"f":90},{"d":135,"r":0.475,"f":110},{"d":145,"r":0.475,"f":85},{"d":155,"r":0.475,"f":90},{"d":165,"r":0.475,"f":95},{"d":175,"r":0.475,"f":95},{"d":185,"r":0.475,"f":95},{"d":195,"r":0.475,"f":108},{"d":205,"r":0.475,"f":95},{"d":215,"r":0.475,"f":95},{"d":225,"r":0.475,"f":95},{"d":235,"r":0.475,"f":95},{"d":245,"r":0.475,"f":90},
{"d":55,"r":0.425,"f":6},{"d":65,"r":0.425,"f":6},{"d":75,"r":0.425,"f":18},{"d":85,"r":0.425,"f":35},{"d":95,"r":0.425,"f":95},{"d":105,"r":0.425,"f":40},{"d":115,"r":0.425,"f":90},{"d":125,"r":0.425,"f":85},{"d":135,"r":0.425,"f":95},{"d":145,"r":0.425,"f":90},{"d":155,"r":0.425,"f":90},{"d":165,"r":0.425,"f":108},{"d":175,"r":0.425,"f":140},{"d":185,"r":0.425,"f":130},{"d":195,"r":0.425,"f":145},{"d":205,"r":0.425,"f":140},{"d":215,"r":0.425,"f":105},{"d":225,"r":0.425,"f":100},{"d":235,"r":0.425,"f":115},{"d":245,"r":0.425,"f":108},
{"d":55,"r":0.375,"f":3},{"d":65,"r":0.375,"f":6},{"d":75,"r":0.375,"f":15},{"d":85,"r":0.375,"f":25},{"d":95,"r":0.375,"f":25},{"d":105,"r":0.375,"f":35},{"d":115,"r":0.375,"f":75},{"d":125,"r":0.375,"f":55},{"d":135,"r":0.375,"f":80},{"d":145,"r":0.375,"f":95},{"d":155,"r":0.375,"f":105},{"d":165,"r":0.375,"f":118},{"d":175,"r":0.375,"f":118},{"d":185,"r":0.375,"f":95},{"d":195,"r":0.375,"f":118},{"d":205,"r":0.375,"f":140},{"d":215,"r":0.375,"f":125},{"d":225,"r":0.375,"f":125},{"d":235,"r":0.375,"f":138},{"d":245,"r":0.375,"f":118},
{"d":55,"r":0.325,"f":3},{"d":65,"r":0.325,"f":6},{"d":75,"r":0.325,"f":10},{"d":85,"r":0.325,"f":6},{"d":95,"r":0.325,"f":14},{"d":105,"r":0.325,"f":18},{"d":115,"r":0.325,"f":35},{"d":125,"r":0.325,"f":40},{"d":135,"r":0.325,"f":60},{"d":145,"r":0.325,"f":95},{"d":155,"r":0.325,"f":95},{"d":165,"r":0.325,"f":95},{"d":175,"r":0.325,"f":95},{"d":185,"r":0.325,"f":95},{"d":195,"r":0.325,"f":95},{"d":205,"r":0.325,"f":120},{"d":215,"r":0.325,"f":120},{"d":225,"r":0.325,"f":132},{"d":235,"r":0.325,"f":140},{"d":245,"r":0.325,"f":150},
{"d":65,"r":0.275,"f":3},{"d":75,"r":0.275,"f":3},{"d":85,"r":0.275,"f":10},{"d":95,"r":0.275,"f":14},{"d":105,"r":0.275,"f":14},{"d":115,"r":0.275,"f":28},{"d":125,"r":0.275,"f":18},{"d":135,"r":0.275,"f":50},{"d":145,"r":0.275,"f":75},{"d":155,"r":0.275,"f":80},{"d":165,"r":0.275,"f":55},{"d":175,"r":0.275,"f":95},{"d":185,"r":0.275,"f":95},{"d":195,"r":0.275,"f":85},{"d":205,"r":0.275,"f":95},{"d":215,"r":0.275,"f":95},{"d":225,"r":0.275,"f":95},{"d":235,"r":0.275,"f":95},{"d":245,"r":0.275,"f":140},
{"d":75,"r":0.225,"f":3},{"d":95,"r":0.225,"f":6},{"d":105,"r":0.225,"f":12},{"d":115,"r":0.225,"f":12},{"d":125,"r":0.225,"f":12},{"d":135,"r":0.225,"f":28},{"d":145,"r":0.225,"f":20},{"d":155,"r":0.225,"f":55},{"d":165,"r":0.225,"f":90},{"d":175,"r":0.225,"f":85},{"d":185,"r":0.225,"f":90},{"d":195,"r":0.225,"f":85},{"d":205,"r":0.225,"f":85},{"d":215,"r":0.225,"f":95},{"d":225,"r":0.225,"f":90},{"d":235,"r":0.225,"f":108},{"d":245,"r":0.225,"f":105},
{"d":105,"r":0.175,"f":3},{"d":115,"r":0.175,"f":6},{"d":125,"r":0.175,"f":3},{"d":135,"r":0.175,"f":6},{"d":145,"r":0.175,"f":20},{"d":155,"r":0.175,"f":35},{"d":165,"r":0.175,"f":22},{"d":175,"r":0.175,"f":40},{"d":185,"r":0.175,"f":25},{"d":195,"r":0.175,"f":70},{"d":205,"r":0.175,"f":80},{"d":215,"r":0.175,"f":75},{"d":225,"r":0.175,"f":95},{"d":235,"r":0.175,"f":95},{"d":245,"r":0.175,"f":90},
{"d":115,"r":0.125,"f":3},{"d":125,"r":0.125,"f":3},{"d":135,"r":0.125,"f":6},{"d":145,"r":0.125,"f":6},{"d":155,"r":0.125,"f":6},{"d":165,"r":0.125,"f":10},{"d":175,"r":0.125,"f":25},{"d":185,"r":0.125,"f":14},{"d":195,"r":0.125,"f":35},{"d":205,"r":0.125,"f":50},{"d":215,"r":0.125,"f":70},{"d":225,"r":0.125,"f":25},{"d":235,"r":0.125,"f":70},{"d":245,"r":0.125,"f":65},
{"d":135,"r":0.075,"f":3},{"d":145,"r":0.075,"f":3},{"d":155,"r":0.075,"f":3},{"d":165,"r":0.075,"f":6},{"d":175,"r":0.075,"f":10},{"d":185,"r":0.075,"f":3},{"d":195,"r":0.075,"f":10},{"d":205,"r":0.075,"f":12},{"d":215,"r":0.075,"f":12},{"d":225,"r":0.075,"f":18},{"d":235,"r":0.075,"f":12},{"d":245,"r":0.075,"f":10},
{"d":215,"r":0.025,"f":3},{"d":225,"r":0.025,"f":10},{"d":235,"r":0.025,"f":3},{"d":245,"r":0.025,"f":3}],
"bar":[{"f":2.5},{"f":7.5},{"f":12.5},{"f":17.5},{"f":22.5},{"f":27.5},{"f":32.5},{"f":37.5},{"f":42.5},{"f":47.5},{"f":52.5},{"f":57.5},{"f":62.5},{"f":67.5},{"f":72.5},{"f":77.5},{"f":82.5},{"f":87.5},{"f":92.5},{"f":97.5},{"f":102.5},{"f":107.5},{"f":112.5},{"f":117.5},{"f":122.5},{"f":127.5},{"f":132.5},{"f":137.5},{"f":142.5},{"f":147.5},{"f":152.5},{"f":157.5},{"f":162.5},{"f":167.5},{"f":172.5},{"f":177.5},{"f":182.5},{"f":187.5},{"f":192.5},{"f":197.5},{"f":202.5},{"f":207.5},{"f":212.5},{"f":217.5},{"f":222.5},{"f":227.5},{"f":232.5},{"f":237.5},{"f":242.5},{"f":247.5}],
"envB":[{"d":0,"bh":1,"bl":0.35,"rh":1,"rl":0.97},{"d":25,"bh":0.99,"bl":0.2,"rh":0.95,"rl":0.75},{"d":50,"bh":0.97,"bl":0.14,"rh":0.91,"rl":0.55},{"d":100,"bh":0.93,"bl":0.08,"rh":0.85,"rl":0.4},{"d":150,"bh":0.89,"bl":0.05,"rh":0.8,"rl":0.3},{"d":200,"bh":0.86,"bl":0.02,"rh":0.76,"rl":0.22},{"d":300,"bh":0.8,"bl":0,"rh":0.68,"rl":0.11},{"d":400,"bh":0.74,"bl":0,"rh":0.62,"rl":0.05},{"d":500,"bh":0.69,"bl":0,"rh":0.58,"rl":0.01},{"d":600,"bh":0.64,"bl":0,"rh":0.55,"rl":0},{"d":800,"bh":0.56,"bl":0,"rh":0.49,"rl":0},{"d":1000,"bh":0.49,"bl":0,"rh":0.43,"rl":0},{"d":1300,"bh":0.4,"bl":0,"rh":0.34,"rl":0},{"d":1600,"bh":0.33,"bl":0,"rh":0.27,"rl":0},{"d":1900,"bh":0.27,"bl":0,"rh":0.21,"rl":0},{"d":2100,"bh":0.24,"bl":0,"rh":0.19,"rl":0},{"d":2340,"bh":0.22,"bl":0,"rh":0.17,"rl":0}],
"envC":[{"d":0,"bh":1,"bl":0.4,"rh":1,"rl":0.96},{"d":25,"bh":0.99,"bl":0.22,"rh":0.93,"rl":0.72},{"d":50,"bh":0.97,"bl":0.13,"rh":0.86,"rl":0.5},{"d":100,"bh":0.92,"bl":0.06,"rh":0.76,"rl":0.33},{"d":150,"bh":0.88,"bl":0.03,"rh":0.68,"rl":0.24},{"d":200,"bh":0.84,"bl":0.01,"rh":0.62,"rl":0.16},{"d":300,"bh":0.77,"bl":0,"rh":0.53,"rl":0.07},{"d":400,"bh":0.72,"bl":0,"rh":0.46,"rl":0.02},{"d":500,"bh":0.67,"bl":0,"rh":0.41,"rl":0},{"d":600,"bh":0.62,"bl":0,"rh":0.37,"rl":0},{"d":800,"bh":0.55,"bl":0,"rh":0.3,"rl":0},{"d":1000,"bh":0.49,"bl":0,"rh":0.26,"rl":0},{"d":1300,"bh":0.41,"bl":0,"rh":0.21,"rl":0},{"d":1600,"bh":0.34,"bl":0,"rh":0.18,"rl":0},{"d":1900,"bh":0.29,"bl":0,"rh":0.16,"rl":0},{"d":2100,"bh":0.26,"bl":0,"rh":0.15,"rl":0},{"d":2340,"bh":0.23,"bl":0,"rh":0.14,"rl":0}],
"envD":[{"d":0,"bh":1,"bl":0.3,"rh":1,"rl":0.97},{"d":25,"bh":0.99,"bl":0.17,"rh":0.94,"rl":0.72},{"d":50,"bh":0.98,"bl":0.1,"rh":0.9,"rl":0.5},{"d":100,"bh":0.95,"bl":0.05,"rh":0.82,"rl":0.3},{"d":150,"bh":0.9,"bl":0.02,"rh":0.76,"rl":0.19},{"d":200,"bh":0.87,"bl":0.01,"rh":0.71,"rl":0.11},{"d":300,"bh":0.8,"bl":0,"rh":0.63,"rl":0.03},{"d":400,"bh":0.74,"bl":0,"rh":0.57,"rl":0},{"d":600,"bh":0.66,"bl":0,"rh":0.48,"rl":0},{"d":800,"bh":0.59,"bl":0,"rh":0.42,"rl":0},{"d":1000,"bh":0.52,"bl":0,"rh":0.37,"rl":0},{"d":1300,"bh":0.42,"bl":0,"rh":0.31,"rl":0},{"d":1600,"bh":0.34,"bl":0,"rh":0.24,"rl":0},{"d":1900,"bh":0.28,"bl":0,"rh":0.18,"rl":0},{"d":2100,"bh":0.25,"bl":0,"rh":0.15,"rl":0},{"d":2340,"bh":0.23,"bl":0,"rh":0.13,"rl":0}],
"envE":[{"d":0,"bh":1,"bl":0.3,"rh":1,"rl":0.96},{"d":25,"bh":0.99,"bl":0.18,"rh":0.97,"rl":0.8},{"d":50,"bh":0.98,"bl":0.12,"rh":0.95,"rl":0.62},{"d":100,"bh":0.95,"bl":0.06,"rh":0.9,"rl":0.42},{"d":150,"bh":0.91,"bl":0.03,"rh":0.85,"rl":0.3},{"d":200,"bh":0.88,"bl":0.01,"rh":0.81,"rl":0.22},{"d":300,"bh":0.82,"bl":0,"rh":0.74,"rl":0.13},{"d":400,"bh":0.77,"bl":0,"rh":0.68,"rl":0.07},{"d":500,"bh":0.72,"bl":0,"rh":0.63,"rl":0.03},{"d":600,"bh":0.68,"bl":0,"rh":0.59,"rl":0},{"d":800,"bh":0.6,"bl":0,"rh":0.52,"rl":0},{"d":1000,"bh":0.52,"bl":0,"rh":0.46,"rl":0},{"d":1300,"bh":0.42,"bl":0,"rh":0.37,"rl":0},{"d":1600,"bh":0.34,"bl":0,"rh":0.3,"rl":0},{"d":1900,"bh":0.28,"bl":0,"rh":0.24,"rl":0},{"d":2100,"bh":0.25,"bl":0,"rh":0.21,"rl":0},{"d":2340,"bh":0.23,"bl":0,"rh":0.19,"rl":0}],
"ptB":[{"d":497,"r":0.9,"s":"r"},{"d":548,"r":0.74,"s":"b"},{"d":622,"r":0.83,"s":"b"},{"d":641,"r":0.7,"s":"r"},{"d":672,"r":0.91,"s":"r"},{"d":713,"r":0.79,"s":"b"},{"d":708,"r":0.64,"s":"b"},{"d":755,"r":0.92,"s":"b"},{"d":778,"r":0.69,"s":"r"},{"d":792,"r":0.86,"s":"r"},{"d":833,"r":0.75,"s":"b"},{"d":828,"r":0.61,"s":"b"},{"d":871,"r":0.89,"s":"b"},{"d":884,"r":0.66,"s":"r"},{"d":918,"r":0.81,"s":"b"},{"d":921,"r":0.55,"s":"b"},{"d":968,"r":0.73,"s":"r"},{"d":983,"r":0.63,"s":"b"},{"d":1022,"r":0.85,"s":"b"},{"d":1036,"r":0.53,"s":"b"},{"d":1068,"r":0.71,"s":"r"},{"d":1084,"r":0.59,"s":"b"},{"d":1127,"r":0.77,"s":"r"},{"d":1143,"r":0.49,"s":"b"},{"d":1189,"r":0.67,"s":"b"},{"d":1203,"r":0.56,"s":"r"},{"d":1247,"r":0.73,"s":"b"},{"d":1264,"r":0.45,"s":"b"},{"d":1308,"r":0.63,"s":"r"},{"d":1322,"r":0.8,"s":"b"},{"d":1369,"r":0.52,"s":"b"},{"d":1384,"r":0.71,"s":"b"},{"d":1427,"r":0.43,"s":"b"},{"d":1443,"r":0.6,"s":"r"},{"d":1488,"r":0.76,"s":"r"},{"d":1503,"r":0.5,"s":"b"},{"d":1547,"r":0.67,"s":"r"},{"d":1563,"r":0.4,"s":"b"},{"d":1608,"r":0.58,"s":"b"},{"d":1622,"r":0.7,"s":"r"},{"d":1668,"r":0.46,"s":"r"},{"d":1684,"r":0.36,"s":"b"},{"d":1727,"r":0.62,"s":"b"},{"d":1743,"r":0.55,"s":"r"},{"d":1788,"r":0.68,"s":"b"},{"d":1804,"r":0.33,"s":"b"},{"d":1847,"r":0.6,"s":"b"},{"d":1863,"r":0.5,"s":"b"},{"d":1908,"r":0.38,"s":"r"},{"d":1923,"r":0.56,"s":"b"},{"d":1967,"r":0.3,"s":"r"},{"d":1983,"r":0.62,"s":"b"},{"d":2027,"r":0.48,"s":"r"},{"d":2044,"r":0.34,"s":"b"},{"d":2087,"r":0.55,"s":"b"},{"d":2103,"r":0.42,"s":"r"},{"d":2147,"r":0.3,"s":"b"},{"d":2164,"r":0.46,"s":"b"},{"d":2207,"r":0.36,"s":"b"},{"d":2224,"r":0.28,"s":"b"},{"d":240,"r":0.87,"s":"b"},{"d":330,"r":0.82,"s":"b"},{"d":410,"r":0.78,"s":"b"},{"d":470,"r":0.72,"s":"b"},{"d":560,"r":0.68,"s":"b"},{"d":650,"r":0.63,"s":"b"},{"d":760,"r":0.6,"s":"b"},{"d":880,"r":0.55,"s":"b"},{"d":1010,"r":0.51,"s":"b"},{"d":1130,"r":0.46,"s":"b"},{"d":1280,"r":0.43,"s":"b"},{"d":1420,"r":0.38,"s":"b"},{"d":1570,"r":0.35,"s":"b"},{"d":1720,"r":0.31,"s":"b"},{"d":1880,"r":0.29,"s":"b"},{"d":2060,"r":0.26,"s":"b"},{"d":2260,"r":0.24,"s":"b"}],
"ptC":[{"d":486,"r":0.88,"s":"r"},{"d":551,"r":0.79,"s":"r"},{"d":583,"r":0.7,"s":"b"},{"d":642,"r":0.86,"s":"r"},{"d":652,"r":0.66,"s":"r"},{"d":703,"r":0.92,"s":"r"},{"d":711,"r":0.76,"s":"b"},{"d":763,"r":0.62,"s":"r"},{"d":774,"r":0.88,"s":"r"},{"d":824,"r":0.7,"s":"r"},{"d":833,"r":0.82,"s":"b"},{"d":882,"r":0.58,"s":"r"},{"d":893,"r":0.91,"s":"b"},{"d":944,"r":0.66,"s":"r"},{"d":952,"r":0.78,"s":"r"},{"d":1003,"r":0.56,"s":"b"},{"d":1013,"r":0.72,"s":"r"},{"d":1064,"r":0.84,"s":"r"},{"d":1072,"r":0.62,"s":"b"},{"d":1123,"r":0.52,"s":"r"},{"d":1133,"r":0.74,"s":"r"},{"d":1184,"r":0.6,"s":"r"},{"d":1192,"r":0.48,"s":"b"},{"d":1243,"r":0.68,"s":"r"},{"d":1253,"r":0.56,"s":"r"},{"d":1304,"r":0.78,"s":"b"},{"d":1312,"r":0.46,"s":"r"},{"d":1363,"r":0.64,"s":"r"},{"d":1373,"r":0.74,"s":"r"},{"d":1424,"r":0.5,"s":"r"},{"d":1432,"r":0.68,"s":"b"},{"d":1483,"r":0.42,"s":"r"},{"d":1493,"r":0.58,"s":"r"},{"d":1544,"r":0.72,"s":"b"},{"d":1552,"r":0.48,"s":"r"},{"d":1603,"r":0.38,"s":"b"},{"d":1613,"r":0.64,"s":"r"},{"d":1664,"r":0.44,"s":"r"},{"d":1672,"r":0.54,"s":"r"},{"d":1723,"r":0.34,"s":"b"},{"d":1733,"r":0.46,"s":"r"},{"d":1784,"r":0.66,"s":"r"},{"d":1792,"r":0.4,"s":"r"},{"d":1843,"r":0.62,"s":"r"},{"d":1853,"r":0.3,"s":"b"},{"d":1904,"r":0.5,"s":"r"},{"d":1912,"r":0.64,"s":"b"},{"d":1963,"r":0.36,"s":"r"},{"d":1973,"r":0.56,"s":"r"},{"d":2024,"r":0.46,"s":"r"},{"d":2032,"r":0.3,"s":"r"},{"d":2083,"r":0.55,"s":"r"},{"d":2093,"r":0.4,"s":"r"},{"d":2144,"r":0.5,"s":"r"},{"d":2152,"r":0.34,"s":"b"},{"d":2203,"r":0.42,"s":"r"},{"d":2213,"r":0.3,"s":"r"},{"d":2264,"r":0.37,"s":"b"},{"d":230,"r":0.85,"s":"b"},{"d":320,"r":0.79,"s":"b"},{"d":410,"r":0.74,"s":"r"},{"d":500,"r":0.7,"s":"b"},{"d":600,"r":0.64,"s":"b"},{"d":720,"r":0.6,"s":"r"},{"d":850,"r":0.55,"s":"b"},{"d":980,"r":0.51,"s":"b"},{"d":1120,"r":0.47,"s":"b"},{"d":1270,"r":0.43,"s":"r"},{"d":1420,"r":0.39,"s":"b"},{"d":1580,"r":0.35,"s":"b"},{"d":1740,"r":0.32,"s":"b"},{"d":1900,"r":0.29,"s":"r"},{"d":2090,"r":0.27,"s":"b"},{"d":2280,"r":0.25,"s":"b"}],
"ptD":[{"d":522,"r":0.86,"s":"b"},{"d":547,"r":0.7,"s":"b"},{"d":613,"r":0.9,"s":"b"},{"d":628,"r":0.76,"s":"b"},{"d":693,"r":0.92,"s":"b"},{"d":704,"r":0.68,"s":"r"},{"d":752,"r":0.84,"s":"b"},{"d":763,"r":0.62,"s":"b"},{"d":812,"r":0.9,"s":"b"},{"d":823,"r":0.72,"s":"b"},{"d":872,"r":0.58,"s":"r"},{"d":883,"r":0.82,"s":"b"},{"d":932,"r":0.66,"s":"b"},{"d":943,"r":0.76,"s":"b"},{"d":992,"r":0.54,"s":"b"},{"d":1003,"r":0.7,"s":"b"},{"d":1052,"r":0.6,"s":"b"},{"d":1063,"r":0.76,"s":"b"},{"d":1112,"r":0.5,"s":"b"},{"d":1123,"r":0.66,"s":"b"},{"d":1172,"r":0.56,"s":"b"},{"d":1183,"r":0.72,"s":"b"},{"d":1232,"r":0.46,"s":"b"},{"d":1243,"r":0.62,"s":"b"},{"d":1292,"r":0.78,"s":"b"},{"d":1303,"r":0.52,"s":"b"},{"d":1352,"r":0.68,"s":"b"},{"d":1363,"r":0.42,"s":"r"},{"d":1412,"r":0.6,"s":"b"},{"d":1423,"r":0.74,"s":"b"},{"d":1472,"r":0.5,"s":"b"},{"d":1483,"r":0.66,"s":"b"},{"d":1532,"r":0.4,"s":"b"},{"d":1543,"r":0.58,"s":"b"},{"d":1592,"r":0.7,"s":"b"},{"d":1603,"r":0.46,"s":"b"},{"d":1652,"r":0.36,"s":"b"},{"d":1663,"r":0.54,"s":"b"},{"d":1712,"r":0.66,"s":"b"},{"d":1723,"r":0.44,"s":"b"},{"d":1772,"r":0.6,"s":"b"},{"d":1783,"r":0.34,"s":"r"},{"d":1832,"r":0.52,"s":"b"},{"d":1843,"r":0.62,"s":"b"},{"d":1892,"r":0.42,"s":"b"},{"d":1903,"r":0.3,"s":"b"},{"d":1952,"r":0.5,"s":"b"},{"d":1963,"r":0.58,"s":"b"},{"d":2012,"r":0.36,"s":"b"},{"d":2023,"r":0.46,"s":"b"},{"d":2072,"r":0.28,"s":"b"},{"d":2083,"r":0.52,"s":"b"},{"d":2132,"r":0.38,"s":"b"},{"d":2143,"r":0.44,"s":"b"},{"d":2192,"r":0.3,"s":"r"},{"d":2203,"r":0.36,"s":"b"},{"d":2262,"r":0.27,"s":"b"},{"d":230,"r":0.87,"s":"b"},{"d":310,"r":0.82,"s":"b"},{"d":400,"r":0.77,"s":"b"},{"d":490,"r":0.73,"s":"b"},{"d":590,"r":0.69,"s":"b"},{"d":700,"r":0.65,"s":"b"},{"d":820,"r":0.6,"s":"b"},{"d":950,"r":0.56,"s":"b"},{"d":1090,"r":0.51,"s":"b"},{"d":1240,"r":0.46,"s":"b"},{"d":1400,"r":0.41,"s":"b"},{"d":1560,"r":0.37,"s":"b"},{"d":1720,"r":0.33,"s":"b"},{"d":1890,"r":0.3,"s":"b"},{"d":2070,"r":0.27,"s":"b"},{"d":2270,"r":0.25,"s":"b"}],
"ptE":[{"d":533,"r":0.85,"s":"b"},{"d":558,"r":0.74,"s":"r"},{"d":623,"r":0.88,"s":"b"},{"d":638,"r":0.72,"s":"b"},{"d":693,"r":0.92,"s":"b"},{"d":704,"r":0.66,"s":"r"},{"d":752,"r":0.82,"s":"b"},{"d":763,"r":0.9,"s":"b"},{"d":812,"r":0.72,"s":"b"},{"d":823,"r":0.62,"s":"r"},{"d":872,"r":0.84,"s":"b"},{"d":883,"r":0.76,"s":"b"},{"d":932,"r":0.58,"s":"b"},{"d":943,"r":0.68,"s":"b"},{"d":992,"r":0.8,"s":"b"},{"d":1003,"r":0.54,"s":"r"},{"d":1052,"r":0.72,"s":"b"},{"d":1063,"r":0.62,"s":"b"},{"d":1112,"r":0.78,"s":"b"},{"d":1123,"r":0.5,"s":"b"},{"d":1172,"r":0.66,"s":"b"},{"d":1183,"r":0.56,"s":"b"},{"d":1232,"r":0.74,"s":"b"},{"d":1243,"r":0.46,"s":"r"},{"d":1292,"r":0.62,"s":"b"},{"d":1303,"r":0.52,"s":"b"},{"d":1352,"r":0.78,"s":"b"},{"d":1363,"r":0.68,"s":"b"},{"d":1412,"r":0.44,"s":"b"},{"d":1423,"r":0.58,"s":"b"},{"d":1472,"r":0.72,"s":"b"},{"d":1483,"r":0.5,"s":"b"},{"d":1532,"r":0.62,"s":"b"},{"d":1543,"r":0.38,"s":"r"},{"d":1592,"r":0.54,"s":"b"},{"d":1603,"r":0.7,"s":"b"},{"d":1652,"r":0.44,"s":"b"},{"d":1663,"r":0.6,"s":"b"},{"d":1712,"r":0.34,"s":"b"},{"d":1723,"r":0.5,"s":"b"},{"d":1772,"r":0.66,"s":"b"},{"d":1783,"r":0.4,"s":"b"},{"d":1832,"r":0.56,"s":"b"},{"d":1843,"r":0.3,"s":"r"},{"d":1892,"r":0.62,"s":"b"},{"d":1903,"r":0.46,"s":"b"},{"d":1952,"r":0.36,"s":"b"},{"d":1963,"r":0.52,"s":"b"},{"d":2012,"r":0.6,"s":"b"},{"d":2023,"r":0.4,"s":"b"},{"d":2072,"r":0.28,"s":"b"},{"d":2083,"r":0.5,"s":"b"},{"d":2132,"r":0.34,"s":"b"},{"d":2143,"r":0.44,"s":"b"},{"d":2192,"r":0.3,"s":"b"},{"d":2203,"r":0.36,"s":"b"},{"d":2262,"r":0.27,"s":"r"},{"d":300,"r":0.84,"s":"b"},{"d":410,"r":0.79,"s":"r"},{"d":520,"r":0.74,"s":"b"},{"d":650,"r":0.7,"s":"r"},{"d":780,"r":0.63,"s":"b"},{"d":920,"r":0.58,"s":"r"},{"d":1060,"r":0.53,"s":"b"},{"d":1210,"r":0.48,"s":"r"},{"d":1370,"r":0.42,"s":"b"},{"d":1530,"r":0.38,"s":"r"},{"d":1690,"r":0.34,"s":"b"},{"d":1860,"r":0.3,"s":"b"},{"d":2040,"r":0.27,"s":"r"},{"d":2240,"r":0.25,"s":"b"}]
},
"layer":[
{"layer":[
{"data":{"name":"fine"},"mark":{"type":"rect","width":9.5,"height":15},"encoding":{"x":{"field":"d","type":"quantitative","scale":{"domain":[0,4000],"range":[80,801],"nice":false,"zero":false},"axis":{"orient":"bottom","title":"Inter-Catchment Distance (km)","titleFontSize":31,"titleFontStyle":"italic","titleFontWeight":"normal","titleColor":"#222","titlePadding":20,"values":[0,1000,2000,3000,4000],"format":"d","offset":-365,"tickSize":8,"tickColor":"#666","domainColor":"#777","domainWidth":1.5,"labelFontSize":27,"labelColor":"#555","labelPadding":7}},"y":{"field":"r","type":"quantitative","scale":{"domain":[0,1],"range":[386,23],"nice":false,"zero":false},"axis":{"orient":"left","title":null,"values":[0,0.51,1],"format":"d","labelExpr":"datum.value==0.51?'':(datum.value==1?'1':'0')","offset":-80,"tickSize":8,"tickColor":"#666","domainColor":"#777","domainWidth":1.5,"labelFontSize":29,"labelColor":"#555","labelPadding":5,"labelBaseline":{"condition":{"test":"datum.value==1","value":"top"},"value":"middle"}}},"color":{"field":"f","type":"quantitative","legend":null,"scale":{"domain":[0,5,10,25,40,50,75,100,110,120,130,140,150,160,175,190,200,215,230,250],"range":["#ffffff","#eef7fb","#cfeaf6","#45bde8","#4f9bd5","#4a7dbf","#3b5aa8","#364a9f","#4f4a9c","#6e6f8f","#8f8f70","#b5ae45","#e8e020","#f8e80a","#fbb81e","#f5821f","#f26524","#ee2a24","#c02026","#6e1014"]}}}},
{"data":{"name":"coarse"},"mark":{"type":"rect","width":18.5,"height":15},"encoding":{"x":{"field":"d","type":"quantitative"},"y":{"field":"r","type":"quantitative"},"color":{"field":"f","type":"quantitative"}}},
{"data":{"name":"hot"},"mark":{"type":"rect","width":9.5,"height":9.2},"encoding":{"x":{"field":"d","type":"quantitative"},"y":{"field":"r","type":"quantitative"},"color":{"field":"f","type":"quantitative"}}},
{"data":{"values":[{"d":-277,"r":-0.077,"t":"a)"}]},"mark":{"type":"text","fontSize":26,"color":"#555"},"encoding":{"x":{"field":"d","type":"quantitative"},"y":{"field":"r","type":"quantitative"},"text":{"field":"t"}}},
{"data":{"values":[{"d":-233,"r":0.416,"t":"ρ"}]},"mark":{"type":"text","fontSize":38,"fontStyle":"italic","angle":270,"baseline":"alphabetic","color":"#111"},"encoding":{"x":{"field":"d","type":"quantitative"},"y":{"field":"r","type":"quantitative"},"text":{"field":"t"}}},
{"data":{"values":[{"d":-178,"r":0.532,"t":"meas"}]},"mark":{"type":"text","fontSize":24,"angle":270,"baseline":"alphabetic","color":"#222"},"encoding":{"x":{"field":"d","type":"quantitative"},"y":{"field":"r","type":"quantitative"},"text":{"field":"t"}}}
]},
{"data":{"name":"inset"},"mark":{"type":"rect","width":12,"height":9.4},"encoding":{"x":{"field":"d","type":"quantitative","scale":{"domain":[0,250],"range":[487.5,777.5],"nice":false,"zero":false},"axis":{"orient":"bottom","title":null,"values":[0,50,100,150,200,250],"format":"d","labelFlush":false,"offset":-551,"tickSize":4,"tickColor":"#666","domainColor":"#777","labelFontSize":14,"labelColor":"#666","labelPadding":3}},"y":{"field":"r","type":"quantitative","scale":{"domain":[0,1],"range":[200,21],"nice":false,"zero":false},"axis":{"orient":"left","title":null,"values":[0,0.5,1],"format":"~g","offset":-487,"tickSize":4,"tickColor":"#666","domainColor":"#777","labelFontSize":14,"labelColor":"#666","labelPadding":5,"labelOffset":3}},"color":{"field":"f","type":"quantitative","legend":null,"scale":{"domain":[0,5,10,25,40,50,75,100,110,120,130,140,150,160,175,190,200,215,230,250],"range":["#ffffff","#eef7fb","#cfeaf6","#45bde8","#4f9bd5","#4a7dbf","#3b5aa8","#364a9f","#4f4a9c","#6e6f8f","#8f8f70","#b5ae45","#e8e020","#f8e80a","#fbb81e","#f5821f","#f26524","#ee2a24","#c02026","#6e1014"]}}}},
{"layer":[
{"data":{"name":"bar"},"mark":{"type":"rect","height":8},"encoding":{"x":{"datum":0,"type":"quantitative","scale":{"domain":[0,1],"range":[865,890],"nice":false,"zero":false},"axis":null},"x2":{"datum":1},"y":{"field":"f","type":"quantitative","scale":{"domain":[0,250],"range":[396,12],"nice":false,"zero":false},"axis":{"title":null,"orient":"right","values":[0,50,100,150,200,250],"format":"d","offset":-35,"tickSize":-7,"tickColor":"#666","domain":false,"labelFontSize":13,"labelColor":"#666","labelPadding":11,"labelFlush":true}},"color":{"field":"f","type":"quantitative","legend":null,"scale":{"domain":[0,5,10,25,40,50,75,100,110,120,130,140,150,160,175,190,200,215,230,250],"range":["#ffffff","#eef7fb","#cfeaf6","#45bde8","#4f9bd5","#4a7dbf","#3b5aa8","#364a9f","#4f4a9c","#6e6f8f","#8f8f70","#b5ae45","#e8e020","#f8e80a","#fbb81e","#f5821f","#f26524","#ee2a24","#c02026","#6e1014"]}}}},
{"data":{"values":[{"f":0}]},"mark":{"type":"rect","fillOpacity":0,"stroke":"#444","strokeWidth":1},"encoding":{"x":{"datum":0,"type":"quantitative"},"x2":{"datum":1},"y":{"datum":0,"type":"quantitative"},"y2":{"datum":250}}},
{"data":{"values":[{"c":-0.68,"f":134,"t":"frequency"}]},"mark":{"type":"text","fontSize":24,"fontStyle":"italic","angle":270,"color":"#222"},"encoding":{"x":{"field":"c","type":"quantitative"},"y":{"field":"f","type":"quantitative"},"text":{"field":"t"}}}
]},
{"layer":[
{"data":{"name":"envB"},"mark":{"type":"area","color":"#3d54a4"},"encoding":{"x":{"field":"d","type":"quantitative","scale":{"domain":[0,2340],"range":[76,236],"nice":false,"zero":false},"axis":{"orient":"bottom","title":null,"values":[0,2000],"format":"d","labelFlush":false,"offset":-59,"ticks":false,"domainColor":"#666","domainWidth":2,"labelFontSize":19,"labelColor":"#111","labelPadding":6,"labelOffset":2}},"y":{"field":"bh","type":"quantitative","scale":{"domain":[0,1],"range":[692,523],"nice":false,"zero":false},"axis":{"orient":"left","title":null,"values":[0,1],"format":"d","offset":-76,"ticks":false,"domainColor":"#666","domainWidth":2,"labelFontSize":20,"labelColor":"#111","labelPadding":6,"labelBaseline":{"condition":{"test":"datum.value==1","value":"top"},"value":"bottom"}}},"y2":{"field":"bl"}}},
{"data":{"name":"ptB"},"mark":{"type":"point","filled":true,"size":11,"opacity":0.75},"encoding":{"x":{"field":"d","type":"quantitative"},"y":{"field":"r","type":"quantitative"},"color":{"field":"s","legend":null,"scale":{"domain":["b","r"],"range":["#4a5aaa","#e8403a"]}}}},
{"data":{"name":"envB"},"mark":{"type":"area","color":"#ee1c25"},"encoding":{"x":{"field":"d","type":"quantitative"},"y":{"field":"rh","type":"quantitative"},"y2":{"field":"rl"}}},
{"data":{"values":[{"d":1333,"r":1.024,"t":"spring"},{"d":2222,"r":1.006,"t":"b)"}]},"mark":{"type":"text","fontSize":19,"color":"#111"},"encoding":{"x":{"field":"d","type":"quantitative"},"y":{"field":"r","type":"quantitative"},"text":{"field":"t"}}},
{"data":{"values":[{"d":-450,"r":0.43,"t":"ρ"}]},"mark":{"type":"text","fontSize":30,"fontStyle":"italic","angle":270,"baseline":"alphabetic","color":"#111"},"encoding":{"x":{"field":"d","type":"quantitative"},"y":{"field":"r","type":"quantitative"},"text":{"field":"t"}}},
{"data":{"values":[{"d":-335,"r":0.555,"t":"meas"}]},"mark":{"type":"text","fontSize":15,"angle":270,"baseline":"alphabetic","color":"#111"},"encoding":{"x":{"field":"d","type":"quantitative"},"y":{"field":"r","type":"quantitative"},"text":{"field":"t"}}}
]},
{"layer":[
{"data":{"name":"envC"},"mark":{"type":"area","color":"#3d54a4"},"encoding":{"x":{"field":"d","type":"quantitative","scale":{"domain":[0,2340],"range":[266,427],"nice":false,"zero":false},"axis":{"orient":"bottom","title":null,"values":[0,2000],"format":"d","labelFlush":false,"offset":-59,"ticks":false,"domainColor":"#666","domainWidth":2,"labelFontSize":19,"labelColor":"#111","labelPadding":6,"labelOffset":2}},"y":{"field":"bh","type":"quantitative","scale":{"domain":[0,1],"range":[692,523],"nice":false,"zero":false},"axis":{"orient":"left","title":null,"values":[0,1],"labels":false,"offset":-266,"ticks":false,"domainColor":"#666","domainWidth":2}},"y2":{"field":"bl"}}},
{"data":{"name":"ptC"},"mark":{"type":"point","filled":true,"size":11,"opacity":0.75},"encoding":{"x":{"field":"d","type":"quantitative"},"y":{"field":"r","type":"quantitative"},"color":{"field":"s","legend":null,"scale":{"domain":["b","r"],"range":["#4a5aaa","#e8403a"]}}}},
{"data":{"name":"envC"},"mark":{"type":"area","color":"#ee1c25"},"encoding":{"x":{"field":"d","type":"quantitative"},"y":{"field":"rh","type":"quantitative"},"y2":{"field":"rl"}}},
{"data":{"values":[{"d":1265,"r":1.024,"t":"summer"},{"d":2250,"r":1.012,"t":"c)"}]},"mark":{"type":"text","fontSize":19,"color":"#111"},"encoding":{"x":{"field":"d","type":"quantitative"},"y":{"field":"r","type":"quantitative"},"text":{"field":"t"}}},
{"data":{"values":[{"d":2530,"r":-0.275,"t":"Inter-Catchment Distance (km)"}]},"mark":{"type":"text","fontSize":21.5,"fontStyle":"italic","color":"#111"},"encoding":{"x":{"field":"d","type":"quantitative"},"y":{"field":"r","type":"quantitative"},"text":{"field":"t"}}}
]},
{"layer":[
{"data":{"name":"envD"},"mark":{"type":"area","color":"#3d54a4"},"encoding":{"x":{"field":"d","type":"quantitative","scale":{"domain":[0,2340],"range":[458,622],"nice":false,"zero":false},"axis":{"orient":"bottom","title":null,"values":[0,2000],"format":"d","labelFlush":false,"offset":-59,"ticks":false,"domainColor":"#666","domainWidth":2,"labelFontSize":19,"labelColor":"#111","labelPadding":6,"labelOffset":2}},"y":{"field":"bh","type":"quantitative","scale":{"domain":[0,1],"range":[692,523],"nice":false,"zero":false},"axis":{"orient":"left","title":null,"values":[0,1],"labels":false,"offset":-458,"ticks":false,"domainColor":"#666","domainWidth":2}},"y2":{"field":"bl"}}},
{"data":{"name":"ptD"},"mark":{"type":"point","filled":true,"size":11,"opacity":0.75},"encoding":{"x":{"field":"d","type":"quantitative"},"y":{"field":"r","type":"quantitative"},"color":{"field":"s","legend":null,"scale":{"domain":["b","r"],"range":["#4a5aaa","#e8403a"]}}}},
{"data":{"name":"envD"},"mark":{"type":"area","color":"#ee1c25"},"encoding":{"x":{"field":"d","type":"quantitative"},"y":{"field":"rh","type":"quantitative"},"y2":{"field":"rl"}}},
{"data":{"values":[{"d":1084,"r":1.024,"t":"autumn"},{"d":2280,"r":1.012,"t":"d)"}]},"mark":{"type":"text","fontSize":19,"color":"#111"},"encoding":{"x":{"field":"d","type":"quantitative"},"y":{"field":"r","type":"quantitative"},"text":{"field":"t"}}}
]},
{"layer":[
{"data":{"name":"envE"},"mark":{"type":"area","color":"#3d54a4"},"encoding":{"x":{"field":"d","type":"quantitative","scale":{"domain":[0,2340],"range":[650,811],"nice":false,"zero":false},"axis":{"orient":"bottom","title":null,"values":[0,2000],"format":"d","labelFlush":false,"offset":-59,"ticks":false,"domainColor":"#666","domainWidth":2,"labelFontSize":19,"labelColor":"#111","labelPadding":6,"labelOffset":2}},"y":{"field":"bh","type":"quantitative","scale":{"domain":[0,1],"range":[692,523],"nice":false,"zero":false},"axis":{"orient":"left","title":null,"values":[0,1],"labels":false,"offset":-650,"ticks":false,"domainColor":"#666","domainWidth":2}},"y2":{"field":"bl"}}},
{"data":{"name":"ptE"},"mark":{"type":"point","filled":true,"size":11,"opacity":0.75},"encoding":{"x":{"field":"d","type":"quantitative"},"y":{"field":"r","type":"quantitative"},"color":{"field":"s","legend":null,"scale":{"domain":["b","r"],"range":["#4a5aaa","#e8403a"]}}}},
{"data":{"name":"envE"},"mark":{"type":"area","color":"#ee1c25"},"encoding":{"x":{"field":"d","type":"quantitative"},"y":{"field":"rh","type":"quantitative"},"y2":{"field":"rl"}}},
{"data":{"values":[{"d":1224,"r":1.024,"t":"winter"},{"d":2250,"r":1.012,"t":"e)"}]},"mark":{"type":"text","fontSize":19,"color":"#111"},"encoding":{"x":{"field":"d","type":"quantitative"},"y":{"field":"r","type":"quantitative"},"text":{"field":"t"}}}
]}
]}
